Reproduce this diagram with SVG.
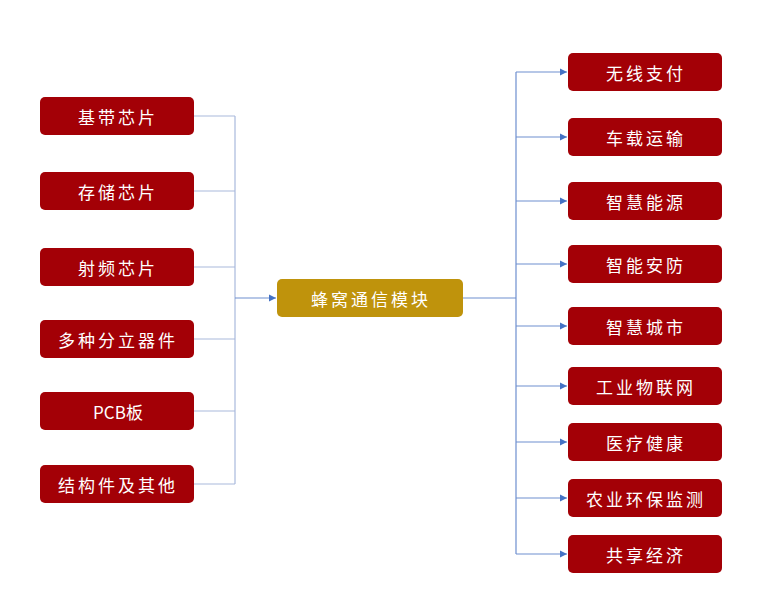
<svg xmlns="http://www.w3.org/2000/svg" width="771" height="601" viewBox="0 0 771 601">
<defs>
<style>
.box{fill:#A30006;}
.ctr{fill:#BF930C;}
.t{font-family:"Noto Sans CJK SC","Noto Sans",sans-serif;font-size:17px;fill:#FFFFFF;text-anchor:middle;dominant-baseline:central;letter-spacing:3px;}
.ll{stroke:#A9B9DC;stroke-width:1.2;fill:none;}
.rl{stroke:#6E8FCF;stroke-width:1.2;fill:none;}
</style>
<marker id="ah" markerWidth="8" markerHeight="8" refX="7" refY="4" orient="auto" markerUnits="userSpaceOnUse">
<path d="M0,0.5 L7,4 L0,7.5 Z" fill="#4472C4"/>
</marker>
</defs>
<rect width="771" height="601" fill="#FFFFFF"/>
<g id="connectors">
<path class="ll" d="M194,116 H235 M194,191 H235 M194,267 H235 M194,339 H235 M194,411 H235 M194,484 H235 M235,116 V484"/>
<path class="rl" d="M235,298 H276" marker-end="url(#ah)"/>
<path class="rl" d="M463,298 H516 M516,72 V554"/>
<path class="rl" d="M516,72 H567" marker-end="url(#ah)"/>
<path class="rl" d="M516,137 H567" marker-end="url(#ah)"/>
<path class="rl" d="M516,201 H567" marker-end="url(#ah)"/>
<path class="rl" d="M516,264 H567" marker-end="url(#ah)"/>
<path class="rl" d="M516,326 H567" marker-end="url(#ah)"/>
<path class="rl" d="M516,386 H567" marker-end="url(#ah)"/>
<path class="rl" d="M516,442 H567" marker-end="url(#ah)"/>
<path class="rl" d="M516,498 H567" marker-end="url(#ah)"/>
<path class="rl" d="M516,554 H567" marker-end="url(#ah)"/>
</g>
<g id="n-jidai"><rect class="box" x="40" y="97" width="154" height="38" rx="5"/><text class="t" x="118" y="116">基带芯片</text></g>
<g id="n-cunchu"><rect class="box" x="40" y="172" width="154" height="38" rx="5"/><text class="t" x="118" y="191">存储芯片</text></g>
<g id="n-shepin"><rect class="box" x="40" y="248" width="154" height="38" rx="5"/><text class="t" x="118" y="267">射频芯片</text></g>
<g id="n-duozhong"><rect class="box" x="40" y="320" width="154" height="38" rx="5"/><text class="t" x="118" y="339">多种分立器件</text></g>
<g id="n-pcb"><rect class="box" x="40" y="392" width="154" height="38" rx="5"/><text class="t" x="118" y="411" style="letter-spacing:0px">PCB板</text></g>
<g id="n-jiegou"><rect class="box" x="40" y="465" width="154" height="38" rx="5"/><text class="t" x="118" y="484">结构件及其他</text></g>
<g id="n-center"><rect class="ctr" x="277" y="279" width="186" height="38" rx="5"/><text class="t" x="371" y="298">蜂窝通信模块</text></g>
<g id="n-r1"><rect class="box" x="568" y="53" width="154" height="38" rx="5"/><text class="t" x="646" y="72">无线支付</text></g>
<g id="n-r2"><rect class="box" x="568" y="118" width="154" height="38" rx="5"/><text class="t" x="646" y="137">车载运输</text></g>
<g id="n-r3"><rect class="box" x="568" y="182" width="154" height="38" rx="5"/><text class="t" x="646" y="201">智慧能源</text></g>
<g id="n-r4"><rect class="box" x="568" y="245" width="154" height="38" rx="5"/><text class="t" x="646" y="264">智能安防</text></g>
<g id="n-r5"><rect class="box" x="568" y="307" width="154" height="38" rx="5"/><text class="t" x="646" y="326">智慧城市</text></g>
<g id="n-r6"><rect class="box" x="568" y="367" width="154" height="38" rx="5"/><text class="t" x="646" y="386">工业物联网</text></g>
<g id="n-r7"><rect class="box" x="568" y="423" width="154" height="38" rx="5"/><text class="t" x="646" y="442">医疗健康</text></g>
<g id="n-r8"><rect class="box" x="568" y="479" width="154" height="38" rx="5"/><text class="t" x="646" y="498">农业环保监测</text></g>
<g id="n-r9"><rect class="box" x="568" y="535" width="154" height="38" rx="5"/><text class="t" x="646" y="554">共享经济</text></g>
</svg>
